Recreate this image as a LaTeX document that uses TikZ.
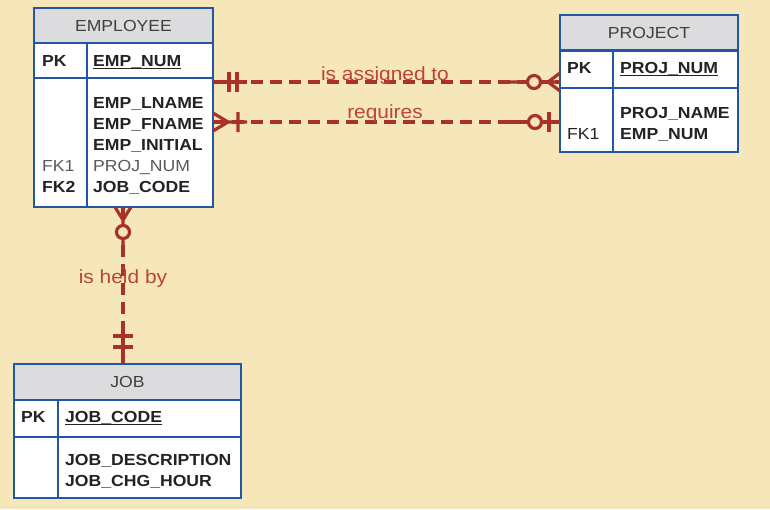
\documentclass[tikz,border=0pt]{standalone}
\usepackage{fontspec}
\setmainfont{Liberation Sans}[FakeStretch=1.1]
\usetikzlibrary{calc}
\definecolor{sfondo}{RGB}{246,231,186}
\definecolor{bordo}{RGB}{36,86,168}
\definecolor{testata}{RGB}{220,220,222}
\definecolor{relazione}{RGB}{168,50,42}
\definecolor{etichetta}{RGB}{190,66,56}
\definecolor{testo}{RGB}{35,35,35}

\begin{document}
\begin{tikzpicture}[
  x=1pt, y=-1pt,
  font=\fontsize{16}{19}\selectfont,
  header/.style={draw=bordo, fill=testata, line width=2.2pt, anchor=north west,
                 inner sep=0pt, outer sep=0pt, text=black!75},
  cell/.style={draw=bordo, fill=white, line width=2.2pt, anchor=north west,
               inner sep=0pt, outer sep=0pt},
  fieldtext/.style={anchor=base west, inner sep=0pt, text=testo,
                    font=\fontsize{16}{19}\selectfont\bfseries},
  plaintext/.style={anchor=base west, inner sep=0pt, text=black!65},
  underline/.style={draw=testo, line width=1pt},
  rel/.style={draw=relazione, line width=3.2pt, dash pattern=on 12pt off 7pt},
  relend/.style={draw=relazione, line width=3.2pt},
  rellabel/.style={anchor=base, inner sep=0pt, text=etichetta,
                   font=\fontsize{19}{22}\selectfont}
]
\path[use as bounding box, fill=sfondo] (0,0) rectangle (770,509);

% EMPLOYEE
\node[header, minimum width=179pt, minimum height=35pt] (emp) at (34,8) {EMPLOYEE};
\node[cell, minimum width=53pt, minimum height=35pt] (empPK) at (emp.south west) {};
\node[cell, minimum width=126pt, minimum height=35pt] (empPKf) at (empPK.north east) {};
\node[cell, minimum width=53pt, minimum height=129pt] (empK) at (empPK.south west) {};
\node[cell, minimum width=126pt, minimum height=129pt] (empF) at (empK.north east) {};
\node[fieldtext] (empPKt) at (42,66) {PK};
\node[fieldtext] (empNum) at (93,66) {EMP\_NUM};
\node[fieldtext] (empLname) at (93,108) {EMP\_LNAME};
\node[fieldtext] (empFname) at (93,129) {EMP\_FNAME};
\node[fieldtext] (empInit) at (93,150) {EMP\_INITIAL};
\node[plaintext] (empProj) at (93,171) {PROJ\_NUM};
\node[fieldtext] (empJob) at (93,192) {JOB\_CODE};
\node[plaintext] (empFK1) at (42,171) {FK1};
\node[fieldtext] (empFK2) at (42,192) {FK2};
\draw[underline] ([yshift=-2.7pt]empNum.base west) -- ([yshift=-2.7pt]empNum.base east);

% PROJECT
\node[header, minimum width=178pt, minimum height=35.5pt] (proj) at (560,15) {PROJECT};
\node[cell, minimum width=53pt, minimum height=37.5pt] (projPK) at (proj.south west) {};
\node[cell, minimum width=125pt, minimum height=37.5pt] (projPKf) at (projPK.north east) {};
\node[cell, minimum width=53pt, minimum height=64pt] (projK) at (projPK.south west) {};
\node[cell, minimum width=125pt, minimum height=64pt] (projF) at (projK.north east) {};
\node[fieldtext] (projPKt) at (567,73) {PK};
\node[fieldtext] (projNum) at (620,73) {PROJ\_NUM};
\node[fieldtext] (projName) at (620,118) {PROJ\_NAME};
\node[fieldtext] (projEmp) at (620,139) {EMP\_NUM};
\node[plaintext, text=testo] (projFK1) at (567,139) {FK1};
\draw[underline] ([yshift=-2.7pt]projNum.base west) -- ([yshift=-2.7pt]projNum.base east);

% JOB
\node[header, minimum width=227pt, minimum height=36pt] (job) at (14,364) {JOB};
\node[cell, minimum width=44pt, minimum height=37pt] (jobPK) at (job.south west) {};
\node[cell, minimum width=183pt, minimum height=37pt] (jobPKf) at (jobPK.north east) {};
\node[cell, minimum width=44pt, minimum height=61pt] (jobK) at (jobPK.south west) {};
\node[cell, minimum width=183pt, minimum height=61pt] (jobF) at (jobK.north east) {};
\node[fieldtext] (jobPKt) at (21,422) {PK};
\node[fieldtext] (jobCode) at (65,422) {JOB\_CODE};
\node[fieldtext] (jobDesc) at (65,465) {JOB\_DESCRIPTION};
\node[fieldtext] (jobHour) at (65,486) {JOB\_CHG\_HOUR};
\draw[underline] ([yshift=-2.7pt]jobCode.base west) -- ([yshift=-2.7pt]jobCode.base east);

% is assigned to
\coordinate (asgL) at (empF.east |- 0,82);
\coordinate (asgR) at (projPK.west |- 0,82);
\draw[rel] (asgL) -- (asgR);
\draw[relend] (asgL) -- ++(34pt,0pt)
  ([shift={(16pt,-10pt)}]asgL) -- ++(0pt,20pt)
  ([shift={(24pt,-10pt)}]asgL) -- ++(0pt,20pt);
\draw[relend] ([xshift=-50pt]asgR) -- (asgR)
  ([xshift=-12pt]asgR) -- ([yshift=9pt]asgR)
  ([xshift=-12pt]asgR) -- ([yshift=-9pt]asgR);
\draw[relend, fill=sfondo] ([xshift=-26pt]asgR) circle (6.5pt);

% requires
\coordinate (reqL) at (empF.east |- 0,122);
\coordinate (reqR) at (projK.west |- 0,122);
\draw[rel] (reqL) -- (reqR);
\draw[relend] (reqL) -- ++(34pt,0pt)
  ([xshift=15pt]reqL) -- ([yshift=9pt]reqL)
  ([xshift=15pt]reqL) -- ([yshift=-9pt]reqL)
  ([shift={(25pt,-10pt)}]reqL) -- ++(0pt,20pt);
\draw[relend] ([xshift=-50pt]reqR) -- (reqR)
  ([shift={(-11pt,-10pt)}]reqR) -- ++(0pt,20pt);
\draw[relend, fill=sfondo] ([xshift=-25pt]reqR) circle (6.5pt);

% is held by
\coordinate (heldT) at (123,0 |- empF.south);
\coordinate (heldB) at (123,0 |- job.north);
\draw[rel] (heldT) -- (heldB);
\draw[relend] (heldT) -- ++(0pt,-40pt)
  ([yshift=-13pt]heldT) -- ([xshift=-8pt]heldT)
  ([yshift=-13pt]heldT) -- ([xshift=8pt]heldT);
\draw[relend, fill=sfondo] ([yshift=-25pt]heldT) circle (6.5pt);
\draw[relend] (heldB) -- ++(0pt,40pt)
  ([shift={(-10pt,28pt)}]heldB) -- ++(20pt,0pt)
  ([shift={(-10pt,17pt)}]heldB) -- ++(20pt,0pt);

% labels
\node[rellabel] (asgLab) at (385,80) {is assigned to};
\node[rellabel] (reqLab) at (385,118) {requires};
\node[rellabel] (heldLab) at (123,283) {is held by};

\end{tikzpicture}
\end{document}
